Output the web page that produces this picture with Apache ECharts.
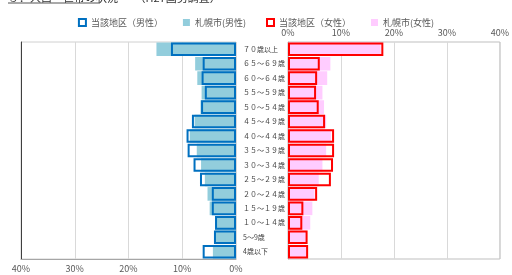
<!DOCTYPE html>
<html lang="ja">
<head>
    <meta charset="UTF-8"/>
    <title>人口ピラミッド</title>
    <style>
        * { padding: 0; margin: 0; }
        body { background: #fff; }
        .chart { width: 512px; height: 275px; }
    </style>
    <script src="https://cdn.jsdelivr.net/npm/echarts@6/dist/echarts.min.js"></script>
</head>
<body>
<div class="chart" id="chart"></div>
<script>
    // 年齢区分（上から）
    const ages = [
        "７０歳以上", "６５～６９歳", "６０～６４歳", "５５～５９歳", "５０～５４歳",
        "４５～４９歳", "４０～４４歳", "３５～３９歳", "３０～３４歳", "２５～２９歳",
        "２０～２４歳", "１５～１９歳", "１０～１４歳", "5～9歳", "4歳以下"
    ];
    // 構成比（%）
    const localMale = [12.1, 6.2, 6.4, 5.8, 6.5, 8.2, 9.2, 9.0, 7.9, 6.7, 4.5, 4.5, 3.9, 4.1, 6.2];
    const sapporoMale = [14.8, 7.6, 7.2, 6.4, 6.6, 7.7, 8.6, 7.3, 6.5, 5.8, 5.3, 4.9, 3.9, 3.9, 4.3];
    const localFemale = [18.0, 6.0, 5.5, 5.3, 5.8, 7.0, 8.7, 8.7, 8.5, 8.1, 5.5, 2.9, 2.7, 3.7, 3.8];
    const sapporoFemale = [17.5, 8.0, 7.4, 6.5, 6.8, 7.2, 8.1, 7.2, 6.5, 5.8, 5.0, 4.6, 4.2, 3.5, 3.5];
    const ticks = [0, 10, 20, 30, 40];

    const font = '"Noto Sans CJK JP", "Noto Sans", sans-serif';
    const myChart = echarts.init(document.getElementById("chart"));

    const axisText = {color: "#595959", fontSize: 9, fontFamily: font};

    const options = {
        animation: false,
        textStyle: {fontFamily: font},
        graphic: [
            {
                type: "text", left: 8, top: -8,
                style: {text: "３．人口・世帯の状況　　（H27国勢調査）", fill: "#333", font: "11px " + font}
            },
            {
                type: "line", shape: {x1: 8, y1: 3, x2: 100, y2: 3},
                style: {stroke: "#555", lineWidth: 1}
            }
        ],
        legend: {
            top: 13,
            left: "center",
            itemWidth: 7,
            itemHeight: 7,
            itemGap: 20,
            icon: "rect",
            textStyle: {fontSize: 9, color: "#595959", fontFamily: font},
            data: ["当該地区（男性）", "札幌市(男性)", "当該地区（女性）", "札幌市(女性)"]
        },
        grid: [
            {left: 21, right: 276, top: 42, bottom: 16, show: true, borderColor: "#d0d0d0", borderWidth: 1},
            {left: 288, right: 9, top: 42, bottom: 16, show: true, borderColor: "#bfbfbf", borderWidth: 1}
        ],
        xAxis: [
            {
                gridIndex: 0, type: "value", inverse: true, position: "bottom",
                min: ticks[0], max: ticks[ticks.length - 1], interval: 10,
                axisLine: {show: true, onZero: false, lineStyle: {color: "#a6a6a6"}},
                axisTick: {show: false},
                axisLabel: Object.assign({formatter: "{value}%", margin: 5}, axisText),
                splitLine: {lineStyle: {color: "#d9d9d9"}}
            },
            {
                gridIndex: 1, type: "value", position: "top",
                min: ticks[0], max: ticks[ticks.length - 1], interval: 10,
                axisLine: {show: false, onZero: false},
                axisTick: {show: false},
                axisLabel: Object.assign({formatter: "{value}%", margin: 5}, axisText),
                splitLine: {lineStyle: {color: "#d9d9d9"}}
            }
        ],
        yAxis: [
            {
                gridIndex: 0, type: "category", inverse: true, position: "left",
                data: ages,
                axisLine: {show: true, onZero: false, lineStyle: {color: "#404040"}},
                axisTick: {show: false},
                axisLabel: {show: false}
            },
            {
                gridIndex: 1, type: "category", inverse: true, position: "left",
                data: ages,
                axisLine: {show: true, onZero: false, lineStyle: {color: "#bfbfbf"}},
                axisTick: {show: false},
                axisLabel: {align: "left", margin: 45, fontSize: 7, color: "#404040", fontFamily: font}
            }
        ],
        series: [
            {
                name: "札幌市(男性)", type: "bar", xAxisIndex: 0, yAxisIndex: 0,
                data: sapporoMale, barCategoryGap: "6%", barGap: "-100%",
                itemStyle: {color: "#92CDDC"}
            },
            {
                name: "当該地区（男性）", type: "bar", xAxisIndex: 0, yAxisIndex: 0,
                data: localMale, barCategoryGap: "6%", barGap: "-100%",
                itemStyle: {color: "rgba(255,255,255,0)", borderColor: "#0070C0", borderWidth: 2}
            },
            {
                name: "札幌市(女性)", type: "bar", xAxisIndex: 1, yAxisIndex: 1,
                data: sapporoFemale, barCategoryGap: "6%", barGap: "-100%",
                itemStyle: {color: "#FFCCFF"}
            },
            {
                name: "当該地区（女性）", type: "bar", xAxisIndex: 1, yAxisIndex: 1,
                data: localFemale, barCategoryGap: "6%", barGap: "-100%",
                itemStyle: {color: "rgba(255,255,255,0)", borderColor: "#FF0000", borderWidth: 2}
            }
        ]
    };
    myChart.setOption(options);
</script>
</body>
</html>
